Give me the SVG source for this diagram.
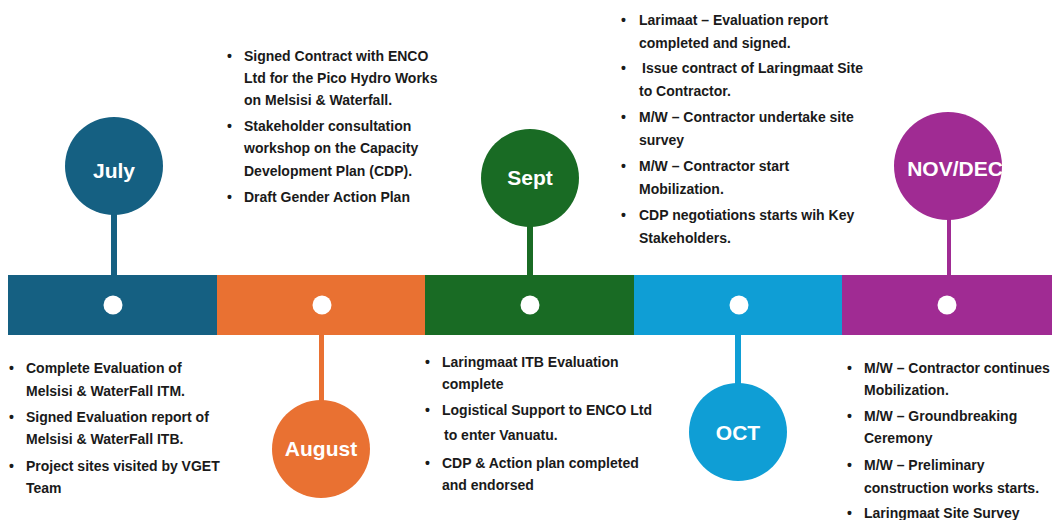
<svg xmlns="http://www.w3.org/2000/svg" width="1056" height="520" viewBox="0 0 1056 520">
<style>
.t{font-family:"Liberation Sans",Arial,sans-serif;font-weight:bold;font-size:14px;fill:#1a1a1a}
.m{font-family:"Liberation Sans",Arial,sans-serif;font-weight:bold;font-size:21px;fill:#ffffff;text-anchor:middle}
.dot{fill:#ffffff}
</style>
<rect width="1056" height="520" fill="#ffffff"/>
<g id="connectors">
<rect x="111" y="210" width="6" height="66" fill="#156082"/>
<rect x="319" y="334" width="5" height="68" fill="#E97132"/>
<rect x="527" y="225" width="6" height="51" fill="#196B24"/>
<rect x="735" y="334" width="6" height="51" fill="#0F9ED5"/>
<rect x="947" y="217" width="4" height="59" fill="#A02B93"/>
</g>
<g id="bar">
<rect x="8" y="275" width="209" height="60" fill="#156082"/>
<rect x="217" y="275" width="208" height="60" fill="#E97132"/>
<rect x="425" y="275" width="209" height="60" fill="#196B24"/>
<rect x="634" y="275" width="208" height="60" fill="#0F9ED5"/>
<rect x="842" y="275" width="210" height="60" fill="#A02B93"/>
<circle class="dot" cx="113" cy="305" r="9.5"/>
<circle class="dot" cx="322" cy="305" r="9.5"/>
<circle class="dot" cx="530" cy="305" r="9.5"/>
<circle class="dot" cx="739" cy="305" r="9.5"/>
<circle class="dot" cx="947" cy="305" r="9.5"/>
</g>
<g id="july">
<circle cx="114" cy="166" r="49" fill="#156082"/>
<text class="m" x="114" y="178">July</text>
</g>
<g id="august">
<circle cx="321" cy="449" r="49" fill="#E97132"/>
<text class="m" x="321" y="456">August</text>
</g>
<g id="sept">
<circle cx="530" cy="178" r="49" fill="#196B24"/>
<text class="m" x="530" y="185">Sept</text>
</g>
<g id="oct">
<circle cx="738" cy="432" r="49" fill="#0F9ED5"/>
<text class="m" x="738" y="440">OCT</text>
</g>
<g id="novdec">
<circle cx="948" cy="166" r="54" fill="#A02B93"/>
<text class="m" x="955" y="176">NOV/DEC</text>
</g>
<g id="july-notes">
<text class="t" x="9" y="373">•</text>
<text class="t" x="26" y="373">Complete Evaluation of</text>
<text class="t" x="26" y="396">Melsisi &amp; WaterFall ITM.</text>
<text class="t" x="9" y="422">•</text>
<text class="t" x="26" y="422">Signed Evaluation report of</text>
<text class="t" x="26" y="444">Melsisi &amp; WaterFall ITB.</text>
<text class="t" x="9" y="471">•</text>
<text class="t" x="26" y="471">Project sites visited by VGET</text>
<text class="t" x="26" y="493">Team</text>
</g>
<g id="august-notes">
<text class="t" x="227" y="61">•</text>
<text class="t" x="244" y="61">Signed Contract with ENCO</text>
<text class="t" x="244" y="83">Ltd for the Pico Hydro Works</text>
<text class="t" x="244" y="105">on Melsisi &amp; Waterfall.</text>
<text class="t" x="227" y="131">•</text>
<text class="t" x="244" y="131">Stakeholder consultation</text>
<text class="t" x="244" y="153">workshop on the Capacity</text>
<text class="t" x="244" y="176">Development Plan (CDP).</text>
<text class="t" x="227" y="202">•</text>
<text class="t" x="244" y="202">Draft Gender Action Plan</text>
</g>
<g id="sept-notes">
<text class="t" x="425" y="367">•</text>
<text class="t" x="442" y="367">Laringmaat ITB Evaluation</text>
<text class="t" x="442" y="389">complete</text>
<text class="t" x="425" y="415">•</text>
<text class="t" x="442" y="415">Logistical Support to ENCO Ltd</text>
<text class="t" x="444" y="440">to enter Vanuatu.</text>
<text class="t" x="425" y="468">•</text>
<text class="t" x="442" y="468">CDP &amp; Action plan completed</text>
<text class="t" x="442" y="490">and endorsed</text>
</g>
<g id="oct-notes">
<text class="t" x="621" y="25">•</text>
<text class="t" x="639" y="25">Larimaat – Evaluation report</text>
<text class="t" x="639" y="48">completed and signed.</text>
<text class="t" x="621" y="73">•</text>
<text class="t" x="642" y="73">Issue contract of Laringmaat Site</text>
<text class="t" x="639" y="96">to Contractor.</text>
<text class="t" x="621" y="122">•</text>
<text class="t" x="639" y="122">M/W – Contractor undertake site</text>
<text class="t" x="639" y="145">survey</text>
<text class="t" x="621" y="171">•</text>
<text class="t" x="639" y="171">M/W – Contractor start</text>
<text class="t" x="639" y="194">Mobilization.</text>
<text class="t" x="621" y="220">•</text>
<text class="t" x="639" y="220">CDP negotiations starts wih Key</text>
<text class="t" x="639" y="243">Stakeholders.</text>
</g>
<g id="novdec-notes">
<text class="t" x="847" y="373">•</text>
<text class="t" x="864" y="373">M/W – Contractor continues</text>
<text class="t" x="864" y="395">Mobilization.</text>
<text class="t" x="847" y="421">•</text>
<text class="t" x="864" y="421">M/W – Groundbreaking</text>
<text class="t" x="864" y="443">Ceremony</text>
<text class="t" x="847" y="470">•</text>
<text class="t" x="864" y="470">M/W – Preliminary</text>
<text class="t" x="864" y="493">construction works starts.</text>
<text class="t" x="847" y="518">•</text>
<text class="t" x="864" y="518">Laringmaat Site Survey</text>
</g>
</svg>
